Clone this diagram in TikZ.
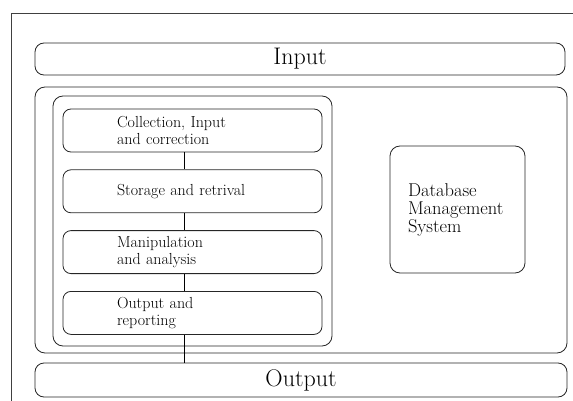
\documentclass[tikz,border=0pt]{standalone}
\usetikzlibrary{positioning}

\begin{document}
\begin{tikzpicture}[x=1pt, y=-1pt,
			line width=0.8pt,
			box/.style={draw=black!85, rounded corners=9pt, inner sep=0pt},
			stepbox/.style={box, rounded corners=8pt, text width=151pt, inner xsep=54pt,
				minimum height=43pt, align=left, font=\fontsize{16}{17}\selectfont},
			bigtext/.style={font=\fontsize{24}{26}\selectfont}]

			\useasboundingbox (0,0) rectangle (573,401);
			\draw[black!75, line width=1pt] (11,401) -- (11,14) -- (573,14);

			\node[box, minimum width=530pt, minimum height=32pt, bigtext] (input) at (300,59) {Input};
			\node[box, rounded corners=10pt, minimum width=532pt, minimum height=266pt] (sys) at (301,220) {};
			\node[box, rounded corners=10pt, minimum width=279pt, minimum height=250pt] (gis) at (192.5,221) {};
			\node[box, minimum width=532pt, minimum height=34pt, bigtext] (output) at (301,380) {Output};

			% the four stages
			\node[stepbox] (s1) at (192.5,130.5) {Collection, Input\\and correction};
			\node[stepbox, below=17pt of s1] (s2) {Storage and retrival};
			\node[stepbox, below=17pt of s2] (s3) {Manipulation\\and analysis};
			\node[stepbox, below=17pt of s3] (s4) {Output and\\reporting};

			\node[box, rounded corners=10pt, text width=99pt, inner xsep=18pt, minimum height=127pt,
				align=left, font=\fontsize{18.5}{18}\selectfont] (dbms) at (457.5,209.5)
				{Database\\Management\\System};

			\foreach \a/\b in {s1/s2, s2/s3, s3/s4}
				\draw ([xshift=-8.5pt]\a.south) -- ([xshift=-8.5pt]\b.north);
			\draw ([xshift=-8.5pt]s4.south) -- ([xshift=-8.5pt]s4.south |- output.north);
		\end{tikzpicture}
\end{document}
